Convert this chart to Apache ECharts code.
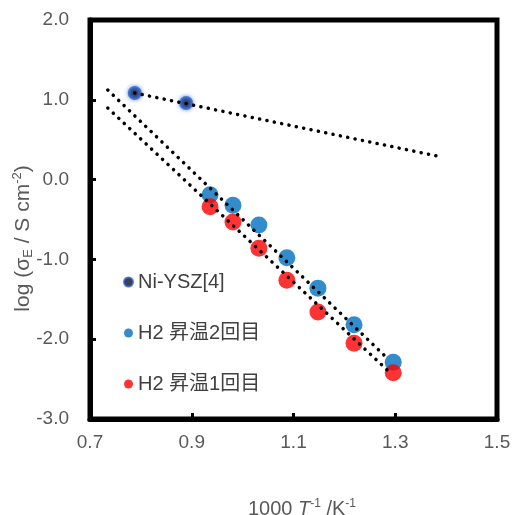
<!DOCTYPE html>
<html>
<head>
<meta charset="utf-8">
<script src="https://cdn.jsdelivr.net/npm/echarts@6/dist/echarts.min.js"></script>
<style>
  html, body { margin: 0; padding: 0; background: #fff; }
  #chart { width: 515px; height: 515px; }
</style>
</head>
<body>
<div id="chart"></div>
<script>
// 軸ラベル
const xLabels = [0.7, 0.9, 1.1, 1.3, 1.5];
const xTicks = [0.9, 1.1, 1.3];
const yLabels = [-3, -2, -1, 0, 1, 2];
const yTicks = [-2, -1, 0, 1];

// データ (1000/T, log σE)
const niYsz = [[0.788, 1.085], [0.889, 0.96]];
const h2Run2 = [
  [0.936, -0.19], [0.981, -0.32], [1.032, -0.57], [1.087, -0.98],
  [1.148, -1.36], [1.219, -1.82], [1.296, -2.29]
];
const h2Run1 = [
  [0.936, -0.34], [0.981, -0.53], [1.032, -0.86], [1.087, -1.26],
  [1.148, -1.66], [1.219, -2.05], [1.296, -2.42]
];

// 近似直線
const niYszFit = [[0.788, 1.085], [1.382, 0.296]];
const h2Run2Fit = [[0.735, 1.123], [1.284, -2.236]];
const h2Run1Fit = [[0.735, 0.897], [1.29, -2.42]];

const font = "'Liberation Sans', 'Noto Sans CJK JP', sans-serif";
const grey = '#595959';

const dotted = {
  color: '#000',
  width: 3.5,
  type: [0.1, 7.4],
  cap: 'round'
};

function fitLine(name, data) {
  return {
    name: name,
    type: 'line',
    data: data,
    symbol: 'none',
    silent: true,
    z: 5,
    lineStyle: dotted
  };
}

const chart = echarts.init(document.getElementById('chart'));

chart.setOption({
  backgroundColor: '#fff',
  animation: false,
  textStyle: { fontFamily: font },
  grid: {
    left: 90,
    right: 18,
    top: 20,
    bottom: 96,
    outerBoundsMode: 'none',
    containLabel: false,
    show: true,
    borderColor: '#000',
    borderWidth: 5
  },
  legend: {
    orient: 'vertical',
    left: 118,
    top: 267,
    itemWidth: 9,
    itemHeight: 9,
    itemGap: 31,
    data: ['Ni-YSZ[4]', 'H2 昇温2回目', 'H2 昇温1回目'],
    textStyle: { fontSize: 20, color: '#404040', lineHeight: 20, fontFamily: font }
  },
  xAxis: {
    type: 'value',
    min: 0.7,
    max: 1.5,
    splitLine: { show: false },
    axisLine: { onZero: false, lineStyle: { color: '#000', width: 5 } },
    axisTick: {
      inside: true,
      length: 6,
      customValues: xTicks,
      lineStyle: { color: '#000', width: 3 }
    },
    axisLabel: {
      customValues: xLabels,
      margin: 14,
      fontSize: 19,
      color: grey,
      formatter: v => v.toFixed(1)
    },
    name: '{a|1000 }{i|T}{sup|-1}{a| /K}{sup|-1}',
    nameLocation: 'middle',
    nameGap: 79,
    nameMoveOverlap: false,
    nameTextStyle: {
      padding: [0, 0, 0, 17],
      rich: {
        a: { fontSize: 20, color: grey, fontFamily: font, lineHeight: 22 },
        i: { fontSize: 20, color: grey, fontFamily: font, fontStyle: 'italic', lineHeight: 22 },
        sup: { fontSize: 12, color: grey, fontFamily: font, verticalAlign: 'top', lineHeight: 12 }
      }
    }
  },
  yAxis: {
    type: 'value',
    min: -3,
    max: 2,
    splitLine: { show: false },
    axisLine: { onZero: false, lineStyle: { color: '#000', width: 5 } },
    axisTick: {
      inside: true,
      length: 6,
      customValues: yTicks,
      lineStyle: { color: '#000', width: 3 }
    },
    axisLabel: {
      customValues: yLabels,
      margin: 21,
      fontSize: 19,
      color: grey,
      formatter: v => v.toFixed(1)
    },
    name: '{a|log (σ}{sub|E}{a| / S cm}{sup|-2}{a|)}',
    nameLocation: 'middle',
    nameGap: 55,
    nameMoveOverlap: false,
    nameTextStyle: {
      padding: [0, 38, 0, 0],
      rich: {
        a: { fontSize: 21, color: grey, fontFamily: font, lineHeight: 24 },
        sub: { fontSize: 13, color: grey, fontFamily: font, verticalAlign: 'bottom', lineHeight: 12 },
        sup: { fontSize: 13, color: grey, fontFamily: font, verticalAlign: 'top', lineHeight: 12 }
      }
    }
  },
  series: [
    {
      name: 'Ni-YSZ[4]',
      type: 'scatter',
      data: niYsz,
      symbolSize: 11,
      z: 3,
      itemStyle: {
        color: '#0b0f2a',
        borderColor: '#2f62c4',
        borderWidth: 3,
        shadowBlur: 4,
        shadowColor: '#5b8ae0'
      }
    },
    {
      name: 'H2 昇温2回目',
      type: 'scatter',
      data: h2Run2,
      symbolSize: 17,
      z: 3,
      itemStyle: { color: '#0070c0' }
    },
    {
      name: 'H2 昇温1回目',
      type: 'scatter',
      data: h2Run1,
      symbolSize: 17,
      z: 3,
      itemStyle: { color: '#ff0000' }
    },
    fitLine('fit-niysz', niYszFit),
    fitLine('fit-run2', h2Run2Fit),
    fitLine('fit-run1', h2Run1Fit)
  ]
});
</script>
</body>
</html>
